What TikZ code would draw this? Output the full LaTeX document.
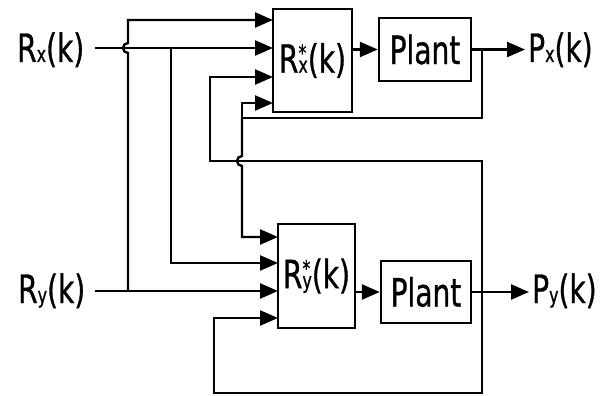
\documentclass[tikz,border=0pt]{standalone}
\usepackage{fontspec}
\setmainfont[FakeStretch=0.72,FakeBold=0.8]{DejaVu Sans}
\usetikzlibrary{arrows.meta}
\newcommand{\subsc}[1]{{\fontsize{22}{22}\selectfont #1}}
\newcommand{\subsup}[1]{\rlap{\raisebox{12pt}{\fontsize{22}{22}\selectfont *}}\subsc{#1}}
\begin{document}
\begin{tikzpicture}[x=1pt,y=-1pt, line width=2.4pt,
  >={Triangle[length=18pt,width=15pt]},
  box/.style={draw, line width=2.4pt, inner sep=0pt, font=\fontsize{39}{42}\selectfont},
  lbl/.style={inner sep=0pt, anchor=base west, font=\fontsize{39}{42}\selectfont}]
\useasboundingbox (0,0) rectangle (614,396);
% blocks
\node[box, minimum width=79pt, minimum height=103pt] (Cx) at (312.5,60.5) {R\subsup{x}(k)};
\node[box, minimum width=92pt, minimum height=63pt] (Gx) at (425,49.5) {Plant};
\node[box, minimum width=77pt, minimum height=104pt] (Cy) at (316.5,276) {R\subsup{y}(k)};
\node[box, minimum width=90pt, minimum height=62pt] (Gy) at (426,292) {Plant};
% labels
\node[lbl] (Rx) at (16,62) {R\subsc{x}(k)};
\node[lbl] (Ry) at (17,303) {R\subsc{y}(k)};
\node[lbl] (Px) at (527,62) {P\subsc{x}(k)};
\node[lbl] (Py) at (531,303) {P\subsc{y}(k)};
% coordinates
\coordinate (rxs) at (95,48);
\coordinate (rys) at (95,291);
\coordinate (cx1) at (273,20);
\coordinate (cx2) at (273,48);
\coordinate (cx3) at (273,77);
\coordinate (cx4) at (273,103);
\coordinate (cy1) at (278,237);
\coordinate (cy2) at (278,263);
\coordinate (cy3) at (278,291);
\coordinate (cy4) at (278,318);
\coordinate (j1) at (171,48);
\coordinate (j2) at (128,291);
\coordinate (jx) at (482,49.5);
\coordinate (kx) at (242,118);
\coordinate (jy) at (482,292);
% Rx
\draw[->] (rxs) -- (cx2);
\draw[->] (j1) -- (171,263) -- (cy2);
% Ry
\draw[->] (rys) -- (cy3);
\draw[->] (j2) -- (128,53) arc[start angle=-90,end angle=-270,radius=5pt] -- (128,20) -- (cx1);
% forward
\draw[->] (Cx.east |- Gx.west) -- (Gx.west);
\draw[->] (Cy.east |- Gy.west) -- (Gy.west);
\draw[->] (Gx.east) -- ([xshift=-2pt]Gx.east -| Px.west);
\draw[->] (Gy.east) -- ([xshift=-2pt]Gy.east -| Py.west);
% Px feedback
\draw[->] (jx) -- (482,118) -- (kx) -- (242,103) -- (cx4);
\draw[->] (kx) -- (242,156) arc[start angle=90,end angle=270,radius=5pt] -- (242,237) -- (cy1);
% Py feedback
\draw[->] (jy) -- (482,161) -- (210,161) -- (210,77) -- (cx3);
\draw[->] (jy) -- (482,393) -- (214,393) -- (214,318) -- (cy4);
\end{tikzpicture}
\end{document}
